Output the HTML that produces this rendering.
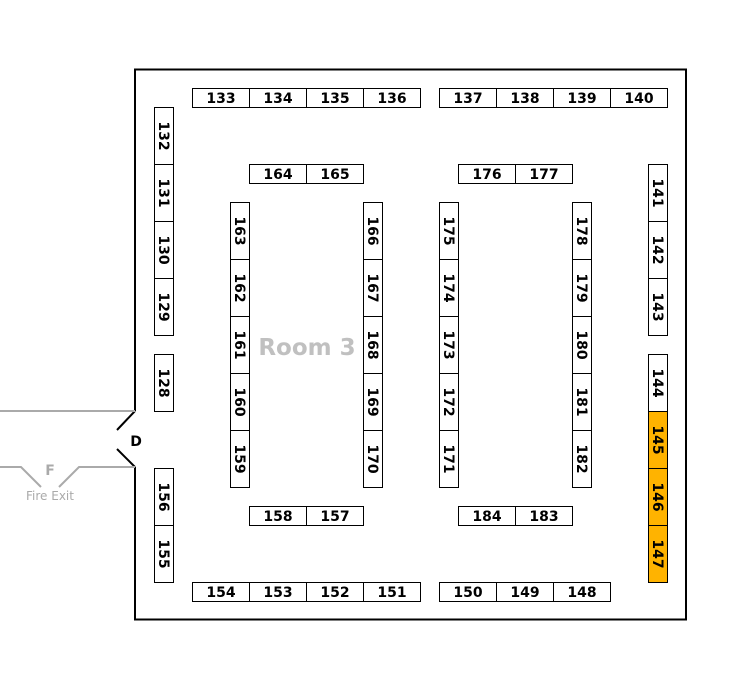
<!DOCTYPE html>
<html><head><meta charset="utf-8"><style>
html,body{margin:0;padding:0;background:#fff;}
svg{display:block;}
text{font-family:"DejaVu Sans","Liberation Sans",sans-serif;}
.c{fill:#fff;stroke:#000;stroke-width:1;}
.o{fill:#ffb300;stroke:#000;stroke-width:1;}
.t{font-size:14px;font-weight:bold;text-anchor:middle;fill:#000;}
</style></head><body>
<svg width="755" height="689" viewBox="0 0 755 689" xmlns="http://www.w3.org/2000/svg">
<path d="M135,411 L135,69.5 L686,69.5 L686,619.5 L135,619.5 L135,467" fill="none" stroke="#000" stroke-width="2"/>
<path d="M135,411 L117,430 M117,449 L135,467" fill="none" stroke="#000" stroke-width="2"/>
<text x="136" y="446" style="font-size:14px;font-weight:bold;text-anchor:middle">D</text>
<path d="M0,411 L135,411 M0,467 L21,467 L41,487 M59,487 L79,467 L135,467" fill="none" stroke="#aaa" stroke-width="2"/>
<text x="50" y="475" style="font-size:14px;font-weight:bold;text-anchor:middle;fill:#aaa">F</text>
<text x="50" y="500" style="font-size:12px;text-anchor:middle;fill:#aaa">Fire Exit</text>
<text x="307" y="355" style="font-size:23px;font-weight:bold;text-anchor:middle;fill:#c0c0c0">Room 3</text>

<g>
<rect class="c" x="192.5" y="88.5" width="57" height="19"/><text class="t" x="221" y="103">133</text>
<rect class="c" x="249.5" y="88.5" width="57" height="19"/><text class="t" x="278" y="103">134</text>
<rect class="c" x="306.5" y="88.5" width="57" height="19"/><text class="t" x="335" y="103">135</text>
<rect class="c" x="363.5" y="88.5" width="57" height="19"/><text class="t" x="392" y="103">136</text>
<rect class="c" x="439.5" y="88.5" width="57" height="19"/><text class="t" x="468" y="103">137</text>
<rect class="c" x="496.5" y="88.5" width="57" height="19"/><text class="t" x="525" y="103">138</text>
<rect class="c" x="553.5" y="88.5" width="57" height="19"/><text class="t" x="582" y="103">139</text>
<rect class="c" x="610.5" y="88.5" width="57" height="19"/><text class="t" x="639" y="103">140</text>

<rect class="c" x="249.5" y="164.5" width="57" height="19"/><text class="t" x="278" y="179">164</text>
<rect class="c" x="306.5" y="164.5" width="57" height="19"/><text class="t" x="335" y="179">165</text>
<rect class="c" x="458.5" y="164.5" width="57" height="19"/><text class="t" x="487" y="179">176</text>
<rect class="c" x="515.5" y="164.5" width="57" height="19"/><text class="t" x="544" y="179">177</text>

<rect class="c" x="249.5" y="506.5" width="57" height="19"/><text class="t" x="278" y="521">158</text>
<rect class="c" x="306.5" y="506.5" width="57" height="19"/><text class="t" x="335" y="521">157</text>
<rect class="c" x="458.5" y="506.5" width="57" height="19"/><text class="t" x="487" y="521">184</text>
<rect class="c" x="515.5" y="506.5" width="57" height="19"/><text class="t" x="544" y="521">183</text>

<rect class="c" x="192.5" y="582.5" width="57" height="19"/><text class="t" x="221" y="597">154</text>
<rect class="c" x="249.5" y="582.5" width="57" height="19"/><text class="t" x="278" y="597">153</text>
<rect class="c" x="306.5" y="582.5" width="57" height="19"/><text class="t" x="335" y="597">152</text>
<rect class="c" x="363.5" y="582.5" width="57" height="19"/><text class="t" x="392" y="597">151</text>
<rect class="c" x="439.5" y="582.5" width="57" height="19"/><text class="t" x="468" y="597">150</text>
<rect class="c" x="496.5" y="582.5" width="57" height="19"/><text class="t" x="525" y="597">149</text>
<rect class="c" x="553.5" y="582.5" width="57" height="19"/><text class="t" x="582" y="597">148</text>
</g>

<g>
<rect class="c" x="154.5" y="107.5" width="19" height="57"/><text class="t" transform="translate(164,136) rotate(90)" y="5">132</text>
<rect class="c" x="154.5" y="164.5" width="19" height="57"/><text class="t" transform="translate(164,193) rotate(90)" y="5">131</text>
<rect class="c" x="154.5" y="221.5" width="19" height="57"/><text class="t" transform="translate(164,250) rotate(90)" y="5">130</text>
<rect class="c" x="154.5" y="278.5" width="19" height="57"/><text class="t" transform="translate(164,307) rotate(90)" y="5">129</text>
<rect class="c" x="154.5" y="354.5" width="19" height="57"/><text class="t" transform="translate(164,383) rotate(90)" y="5">128</text>
<rect class="c" x="154.5" y="468.5" width="19" height="57"/><text class="t" transform="translate(164,497) rotate(90)" y="5">156</text>
<rect class="c" x="154.5" y="525.5" width="19" height="57"/><text class="t" transform="translate(164,554) rotate(90)" y="5">155</text>

<rect class="c" x="230.5" y="202.5" width="19" height="57"/><text class="t" transform="translate(240,231) rotate(90)" y="5">163</text>
<rect class="c" x="230.5" y="259.5" width="19" height="57"/><text class="t" transform="translate(240,288) rotate(90)" y="5">162</text>
<rect class="c" x="230.5" y="316.5" width="19" height="57"/><text class="t" transform="translate(240,345) rotate(90)" y="5">161</text>
<rect class="c" x="230.5" y="373.5" width="19" height="57"/><text class="t" transform="translate(240,402) rotate(90)" y="5">160</text>
<rect class="c" x="230.5" y="430.5" width="19" height="57"/><text class="t" transform="translate(240,459) rotate(90)" y="5">159</text>

<rect class="c" x="363.5" y="202.5" width="19" height="57"/><text class="t" transform="translate(373,231) rotate(90)" y="5">166</text>
<rect class="c" x="363.5" y="259.5" width="19" height="57"/><text class="t" transform="translate(373,288) rotate(90)" y="5">167</text>
<rect class="c" x="363.5" y="316.5" width="19" height="57"/><text class="t" transform="translate(373,345) rotate(90)" y="5">168</text>
<rect class="c" x="363.5" y="373.5" width="19" height="57"/><text class="t" transform="translate(373,402) rotate(90)" y="5">169</text>
<rect class="c" x="363.5" y="430.5" width="19" height="57"/><text class="t" transform="translate(373,459) rotate(90)" y="5">170</text>

<rect class="c" x="439.5" y="202.5" width="19" height="57"/><text class="t" transform="translate(449,231) rotate(90)" y="5">175</text>
<rect class="c" x="439.5" y="259.5" width="19" height="57"/><text class="t" transform="translate(449,288) rotate(90)" y="5">174</text>
<rect class="c" x="439.5" y="316.5" width="19" height="57"/><text class="t" transform="translate(449,345) rotate(90)" y="5">173</text>
<rect class="c" x="439.5" y="373.5" width="19" height="57"/><text class="t" transform="translate(449,402) rotate(90)" y="5">172</text>
<rect class="c" x="439.5" y="430.5" width="19" height="57"/><text class="t" transform="translate(449,459) rotate(90)" y="5">171</text>

<rect class="c" x="572.5" y="202.5" width="19" height="57"/><text class="t" transform="translate(582,231) rotate(90)" y="5">178</text>
<rect class="c" x="572.5" y="259.5" width="19" height="57"/><text class="t" transform="translate(582,288) rotate(90)" y="5">179</text>
<rect class="c" x="572.5" y="316.5" width="19" height="57"/><text class="t" transform="translate(582,345) rotate(90)" y="5">180</text>
<rect class="c" x="572.5" y="373.5" width="19" height="57"/><text class="t" transform="translate(582,402) rotate(90)" y="5">181</text>
<rect class="c" x="572.5" y="430.5" width="19" height="57"/><text class="t" transform="translate(582,459) rotate(90)" y="5">182</text>

<rect class="c" x="648.5" y="164.5" width="19" height="57"/><text class="t" transform="translate(658,193) rotate(90)" y="5">141</text>
<rect class="c" x="648.5" y="221.5" width="19" height="57"/><text class="t" transform="translate(658,250) rotate(90)" y="5">142</text>
<rect class="c" x="648.5" y="278.5" width="19" height="57"/><text class="t" transform="translate(658,307) rotate(90)" y="5">143</text>
<rect class="c" x="648.5" y="354.5" width="19" height="57"/><text class="t" transform="translate(658,383) rotate(90)" y="5">144</text>
<rect class="o" x="648.5" y="411.5" width="19" height="57"/><text class="t" transform="translate(658,440) rotate(90)" y="5">145</text>
<rect class="o" x="648.5" y="468.5" width="19" height="57"/><text class="t" transform="translate(658,497) rotate(90)" y="5">146</text>
<rect class="o" x="648.5" y="525.5" width="19" height="57"/><text class="t" transform="translate(658,554) rotate(90)" y="5">147</text>
</g>
</svg>
</body></html>
